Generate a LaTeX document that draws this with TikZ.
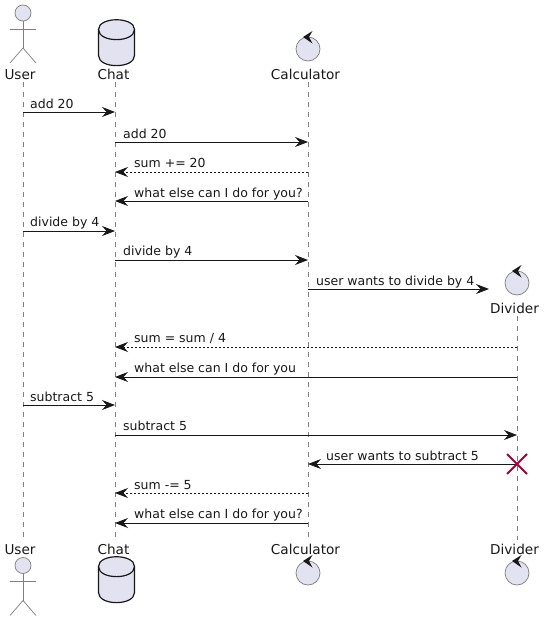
\documentclass[tikz,border=0pt]{standalone}
\usepackage{fontspec}
\setmainfont{DejaVu Sans}
\usetikzlibrary{arrows.meta}
\definecolor{partfill}{HTML}{E2E2F0}
\definecolor{ink}{HTML}{181818}
\definecolor{partedge}{HTML}{7F7F7F}
\definecolor{crossc}{HTML}{A80036}
\tikzset{
  x=1pt,y=-1pt,
  lifeline/.style={draw=partedge,line width=0.6pt,dash pattern=on 5pt off 5pt},
  msgsolid/.style={draw=ink,line width=0.9pt,-{Stealth[length=13pt,width=10pt,inset=4.5pt,fill=ink]}},
  msgdash/.style={draw=ink,line width=0.8pt,dash pattern=on 2pt off 2pt,-{Stealth[length=13pt,width=10pt,inset=4.5pt,fill=ink]}},
  msgtext/.style={anchor=base west,inner sep=0pt,font=\fontsize{12.5}{15}\selectfont,text=ink},
  parttext/.style={anchor=base,inner sep=0pt,font=\fontsize{13.6}{16}\selectfont,text=ink},
  actorline/.style={draw=partedge,line width=0.7pt},
  circlepart/.style={circle,draw=partedge,fill=partfill,line width=0.7pt,minimum size=24pt,inner sep=0pt},
  dbedge/.style={draw=ink,line width=1.2pt,fill=partfill},
  crossline/.style={draw=crossc,line width=2pt},
  ctlhead/.style={fill=ink,draw=none}
}
\newcommand{\actorfig}[2]{%
  \node[circle,draw=partedge,fill=partfill,line width=0.7pt,minimum size=16pt,inner sep=0pt] at (#1,#2) {};
  \draw[actorline] (#1,#2+8) -- (#1,#2+35);
  \draw[actorline] (#1-13,#2+16) -- (#1+13,#2+16);
  \draw[actorline] (#1-13,#2+50) -- (#1,#2+35) -- (#1+13,#2+50);
}
\newcommand{\dbfig}[2]{%
  \path[dbedge] (#1-18,#2+10) .. controls (#1-18,#2-3) and (#1+18,#2-3) .. (#1+18,#2+10)
    -- (#1+18,#2+36) .. controls (#1+18,#2+49.5) and (#1-18,#2+49.5) .. (#1-18,#2+36) -- cycle;
  \draw[draw=ink,line width=1.2pt] (#1-18,#2+10) .. controls (#1-18,#2+23.5) and (#1+18,#2+23.5) .. (#1+18,#2+10);
}
\newcommand{\ctlmark}[2]{%
  \fill[ctlhead] (#1-5,#2-12) -- (#1+4.5,#2-18) -- (#1+1,#2-12) -- (#1+4.5,#2-5.5) -- cycle;
}
\begin{document}
\begin{tikzpicture}
\useasboundingbox (0,0) rectangle (544,621);
% lifeline end points
\coordinate (userTop) at (23,82);  \coordinate (userEnd) at (23,540);
\coordinate (chatTop) at (115,82); \coordinate (chatEnd) at (115,540);
\coordinate (calcTop) at (308,82); \coordinate (calcEnd) at (308,540);
\coordinate (divTop) at (517,316); \coordinate (divEnd) at (517,540);
\draw[lifeline] (userTop) -- (userEnd);
\draw[lifeline] (chatTop) -- (chatEnd);
\draw[lifeline] (calcTop) -- (calcEnd);
\draw[lifeline] (divTop) -- (divEnd);
% participants, top
\actorfig{23}{13}
\dbfig{116.5}{19.5}
\node[circlepart] (calcCircle) at (308,49) {};
\ctlmark{308}{49}
\node[parttext] (userLabel) at (20,79) {User};
\node[parttext] (chatLabel) at (113.5,79) {Chat};
\node[parttext] (calcLabel) at (305.5,79) {Calculator};
% Divider, created
\node[circlepart] (divCircle) at (517,283) {};
\ctlmark{517}{283}
\node[parttext] (divLabel) at (514.5,313) {Divider};
% participants, bottom
\node[parttext] (userLabelB) at (20,554) {User};
\node[parttext] (chatLabelB) at (113.5,554) {Chat};
\node[parttext] (calcLabelB) at (305.5,554) {Calculator};
\node[parttext] (divLabelB) at (514.5,554) {Divider};
\actorfig{23}{565.5}
\dbfig{116.5}{556.5}
\node[circlepart] (calcCircleB) at (308,573) {};
\ctlmark{308}{573}
\node[circlepart] (divCircleB) at (517,573) {};
\ctlmark{517}{573}
% rows
\foreach \n/\y in {a/112,b/142,c/172,d/201,e/231,f/260,g/289,h/347,i/377,j/405,k/435,l/464,m/493,n/523}
  \coordinate (row\n) at (0,\y);
\coordinate (divFront) at (489,0);
% messages
\draw[msgsolid] (userTop |- rowa) -- (chatTop |- rowa);
\node[msgtext] (ta) at (30,108) {add 20};
\draw[msgsolid] (chatTop |- rowb) -- (calcTop |- rowb);
\node[msgtext] (tb) at (123,138) {add 20};
\draw[msgdash] (calcTop |- rowc) -- (chatTop |- rowc);
\node[msgtext] (tc) at (134,167) {sum += 20};
\draw[msgsolid] (calcTop |- rowd) -- (chatTop |- rowd);
\node[msgtext] (td) at (134,197) {what else can I do for you?};
\draw[msgsolid] (userTop |- rowe) -- (chatTop |- rowe);
\node[msgtext] (te) at (30,226) {divide by 4};
\draw[msgsolid] (chatTop |- rowf) -- (calcTop |- rowf);
\node[msgtext] (tf) at (123,255) {divide by 4};
\draw[msgsolid] (calcTop |- rowg) -- (divFront |- rowg);
\node[msgtext] (tg) at (316,285) {user wants to divide by 4};
\draw[msgdash] (divTop |- rowh) -- (chatTop |- rowh);
\node[msgtext] (th) at (134,342) {sum = sum / 4};
\draw[msgsolid] (divTop |- rowi) -- (chatTop |- rowi);
\node[msgtext] (ti) at (134,372) {what else can I do for you};
\draw[msgsolid] (userTop |- rowj) -- (chatTop |- rowj);
\node[msgtext] (tj) at (30,401) {subtract 5};
\draw[msgsolid] (chatTop |- rowk) -- (divTop |- rowk);
\node[msgtext] (tk) at (123,430) {subtract 5};
\draw[msgsolid] (divTop |- rowl) -- (calcTop |- rowl);
\node[msgtext] (tl) at (326,460) {user wants to subtract 5};
\draw[msgdash] (calcTop |- rowm) -- (chatTop |- rowm);
\node[msgtext] (tm) at (134,489) {sum -= 5};
\draw[msgsolid] (calcTop |- rown) -- (chatTop |- rown);
\node[msgtext] (tn) at (134,518) {what else can I do for you?};
% destroy mark
\draw[crossline] (507,454) -- (527,474);
\draw[crossline] (507,474) -- (527,454);
\end{tikzpicture}
\end{document}
